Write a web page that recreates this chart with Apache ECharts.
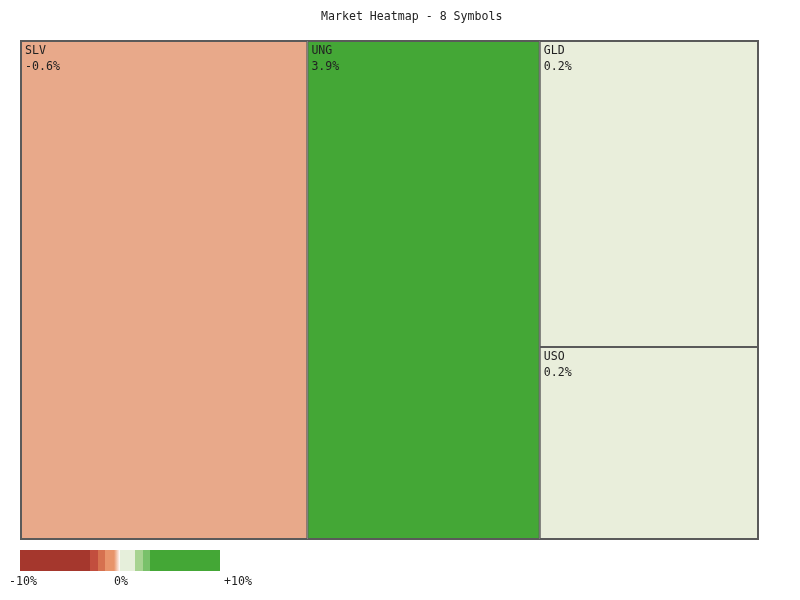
<!DOCTYPE html>
<html>
<head>
<meta charset="utf-8">
<script src="https://cdn.jsdelivr.net/npm/echarts@6/dist/echarts.min.js"></script>
<style>html,body{margin:0;padding:0;background:#fff;}#c{width:800px;height:600px;}</style>
</head>
<body>
<div id="c"></div>
<script>
// ---- data ----
const titleText = 'Market Heatmap - 8 Symbols';
const symbols = ['SLV', 'UNG', 'GLD', 'USO'];
const weights = [143, 116, 67, 42];
const changes = [-0.6, 3.9, 0.2, 0.2];
const layoutGroups = [['SLV', 'UNG'], ['GLD', 'USO']];
const legendTicks = ['-10%', '0%', '+10%'];

// ---- styles ----
const FONT = 'DejaVu Sans Mono';
const FS = 11.6;
function colorFor(v) {
  if (v >= 3) return '#44a736';
  if (v >= 2.25) return '#79c16a';
  if (v >= 1.5) return '#a7d391';
  if (v >= 0) return '#e9eedb';
  if (v > -1) return '#e8a98a';
  if (v > -1.5) return '#e8946b';
  if (v > -2.25) return '#d6714f';
  if (v > -3) return '#c24e3e';
  return '#a5372d';
}
function fmt(v) { return v.toFixed(1) + '%'; }

const tree = layoutGroups.map((g, gi) => ({
  name: 'group' + gi,
  children: g.map(s => {
    const i = symbols.indexOf(s);
    return {
      name: s,
      value: weights[i],
      change: changes[i],
      itemStyle: { color: colorFor(changes[i]) }
    };
  })
}));

const chart = echarts.init(document.getElementById('c'), null, { renderer: 'canvas' });
chart.setOption({
  animation: false,
  title: {
    text: titleText,
    left: 316, top: 6,
    textStyle: { fontFamily: FONT, fontSize: FS, fontWeight: 'normal', color: '#222' }
  },
  series: [{
    type: 'treemap',
    left: 20, top: 40, width: 739, height: 500,
    roam: false, nodeClick: false,
    breadcrumb: { show: false },
    squareRatio: 1,
    visibleMin: 1,
    label: {
      show: true,
      position: 'insideTopLeft',
      distance: 0,
      padding: [1, 4, 0, 3],
      fontFamily: FONT, fontSize: FS, color: '#222', lineHeight: 16,
      formatter: p => p.name + '\n' + fmt(p.data.change)
    },
    upperLabel: { show: false },
    levels: [
      { itemStyle: { borderWidth: 1, borderColor: '#5a5a5a', gapWidth: 0 } },
      { itemStyle: { borderWidth: 0, gapWidth: 0 } },
      { itemStyle: { borderWidth: 1, borderColor: '#5a5a5a', gapWidth: 0 } }
    ],
    data: tree
  }],
  graphic: [
    {
      type: 'rect', left: 20, top: 550, silent: true,
      shape: { width: 200, height: 21 },
      style: {
        fill: new echarts.graphic.LinearGradient(0, 0, 1, 0, [
          { offset: 0, color: '#a5372d' }, { offset: 0.35, color: '#a5372d' },
          { offset: 0.35, color: '#c24e3e' }, { offset: 0.39, color: '#c24e3e' },
          { offset: 0.39, color: '#d6714f' }, { offset: 0.425, color: '#d6714f' },
          { offset: 0.425, color: '#e8946b' }, { offset: 0.47, color: '#e8946b' },
          { offset: 0.5, color: '#ffffff' },
          { offset: 0.5, color: '#e6efdb' }, { offset: 0.575, color: '#e6efdb' },
          { offset: 0.575, color: '#a7d391' }, { offset: 0.615, color: '#a7d391' },
          { offset: 0.615, color: '#79c16a' }, { offset: 0.65, color: '#79c16a' },
          { offset: 0.65, color: '#44a736' }, { offset: 1, color: '#44a736' }
        ])
      }
    },
    { type: 'text', x: 23, y: 576, silent: true,
      style: { text: legendTicks[0], align: 'center', fontFamily: FONT, fontSize: FS, fill: '#222' } },
    { type: 'text', x: 121, y: 576, silent: true,
      style: { text: legendTicks[1], align: 'center', fontFamily: FONT, fontSize: FS, fill: '#222' } },
    { type: 'text', x: 238, y: 576, silent: true,
      style: { text: legendTicks[2], align: 'center', fontFamily: FONT, fontSize: FS, fill: '#222' } }
  ]
});
</script>
</body>
</html>
